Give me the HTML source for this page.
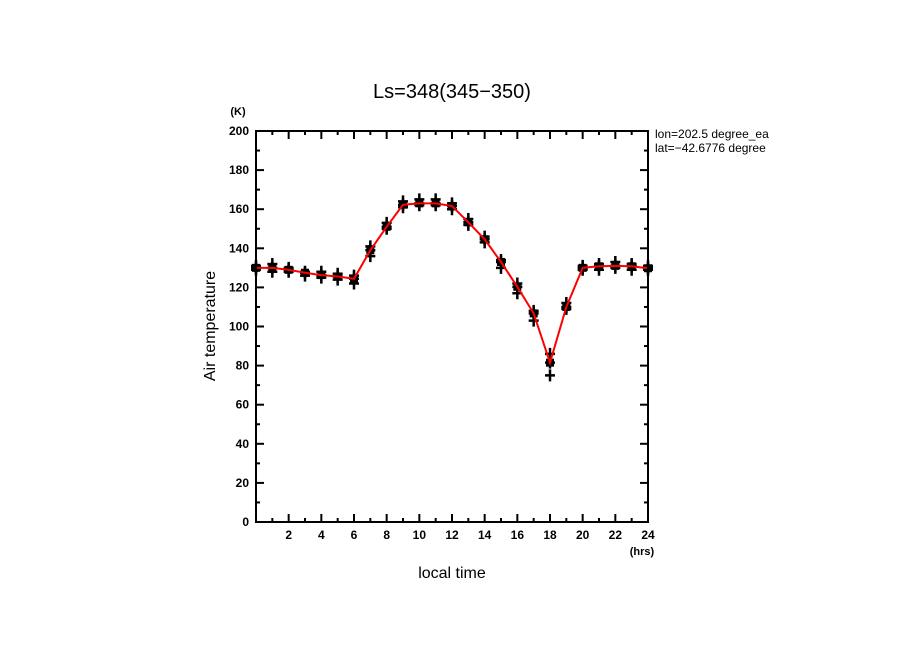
<!DOCTYPE html>
<html><head><meta charset="utf-8"><style>
body{margin:0;background:#fff;width:904px;height:654px;overflow:hidden;font-family:"Liberation Sans",sans-serif}
</style></head><body>
<svg id="chart" width="904" height="654" xmlns="http://www.w3.org/2000/svg" font-family="Liberation Sans, sans-serif" font-weight="bold">
<text x="452" y="98" text-anchor="middle" font-size="20" font-weight="normal">Ls=348(345−350)</text>
<text x="238" y="115" text-anchor="middle" font-size="11">(K)</text>
<text x="642" y="555" text-anchor="middle" font-size="11">(hrs)</text>
<text x="452" y="578" text-anchor="middle" font-size="16" font-weight="normal">local time</text>
<text transform="translate(215,326) rotate(-90)" text-anchor="middle" font-size="16" font-weight="normal">Air temperature</text>
<text x="655" y="138" font-size="12" font-weight="normal">lon=202.5 degree_ea</text>
<text x="655" y="152" font-size="12" font-weight="normal">lat=−42.6776 degree</text>
<g id="axes"></g><g id="marks"></g>
<rect x="256" y="131" width="392" height="391" fill="none" stroke="#000" stroke-width="2"/>
<rect x="780" y="125" width="120" height="40" fill="#fff"/>
</svg>
<script>
const hours=[0,1,2,3,4,5,6,7,8,9,10,11,12,13,14,15,16,17,18,19,20,21,22,23,24];
const meanTemp=[130,130,129,127.5,126.3,125.6,124.4,139,151,162.3,163,163,161.6,153.3,144.6,133,120.3,106.7,81.5,110,130,130.8,131,130.8,129.8];
const obsLow=[129,128,128,126,125,124,122,136,150,161,162,162,160,152,143,130,117,103,75,109,129,129,130,129,129];
const obsHigh=[131,132,130,128,128,127,126,141,153,164,165,165,163,155,146,134,122,108,86,112,131,132,133,132,131];
const yTicks=[0,20,40,60,80,100,120,140,160,180,200];
const xTicks=[2,4,6,8,10,12,14,16,18,20,22,24];
const L=256,R=648,T=131,B=522;
const X=h=>L+(h/24)*(R-L), Y=v=>B-(v/200)*(B-T);
const NS="http://www.w3.org/2000/svg";
const ax=document.getElementById('axes'), mk=document.getElementById('marks');
function mkEl(tag,attrs,parent){const e=document.createElementNS(NS,tag);for(const k in attrs)e.setAttribute(k,attrs[k]);parent.appendChild(e);return e;}
for(let v=0;v<=200;v+=10){const len=v%20===0?8:4;
 const t1=mkEl('line',{x1:L,x2:L+len,y1:Y(v),y2:Y(v),stroke:'#000','stroke-width':2},ax);
 
 const t2=mkEl('line',{x1:R,x2:R-len,y1:Y(v),y2:Y(v),stroke:'#000','stroke-width':2},ax);
 }
for(let h=0;h<=24;h++){const len=h%2===0?8:4;
 const t1=mkEl('line',{x1:X(h),x2:X(h),y1:B,y2:B-len,stroke:'#000','stroke-width':2},ax);
 
 const t2=mkEl('line',{x1:X(h),x2:X(h),y1:T,y2:T+len,stroke:'#000','stroke-width':2},ax);
 }
yTicks.forEach(v=>{const t=mkEl('text',{x:L-7,y:Y(v)+4,'text-anchor':'end','font-size':12},ax);t.textContent=v;
 });
xTicks.forEach(h=>{const t=mkEl('text',{x:X(h),y:B+17,'text-anchor':'middle','font-size':12},ax);t.textContent=h;
 });
hours.forEach((h,i)=>{[obsLow[i],meanTemp[i],obsHigh[i]].forEach(v=>{
 const g=mkEl('path',{d:`M${X(h)-5} ${Y(v)}h10M${X(h)} ${Y(v)-6}v12`,stroke:'#000','stroke-width':2.5,fill:'none'},mk);
 });
 const r=mkEl('rect',{x:X(h)-4,y:Y(meanTemp[i])-4,width:8,height:8,fill:'#000'},mk);
 });
const line=mkEl('polyline',{points:hours.map((h,i)=>X(h)+','+Y(meanTemp[i])).join(' '),fill:'none',stroke:'#f00','stroke-width':2},mk);

</script>
</body></html>
